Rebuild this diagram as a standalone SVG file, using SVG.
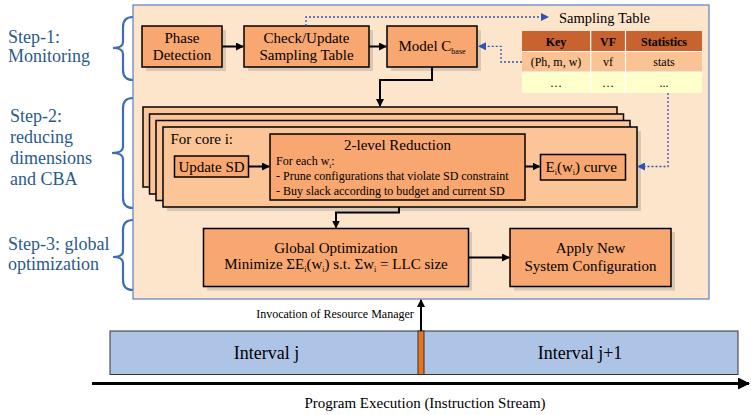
<svg xmlns="http://www.w3.org/2000/svg" width="751" height="415" viewBox="0 0 751 415">
<style>
text{font-family:"Liberation Serif","Times New Roman",serif;fill:#000}
.step{fill:#2A5A8C;font-size:18px}
.brace{fill:none;stroke:#3E6DB5;stroke-width:2.2}
.box{fill:#F8A770;stroke:#000;stroke-width:1.5}
.stk{fill:#FBC597;stroke:#000;stroke-width:1.5}
.sh{fill:#BFB2A4;opacity:0.6}
.c{text-anchor:middle}
.f15{font-size:15px}
.f12{font-size:12px}
.conn{fill:none;stroke:#000;stroke-width:2}
.dash{fill:none;stroke:#2F52B5;stroke-width:1.3;stroke-dasharray:2,2}
</style>
<defs>
<marker id="ah" markerWidth="8" markerHeight="8" refX="7" refY="4" orient="auto" markerUnits="userSpaceOnUse"><path d="M0,0 L8,4 L0,8 Z" fill="#000"/></marker>
<marker id="ahb" markerWidth="8" markerHeight="8" refX="7" refY="4" orient="auto" markerUnits="userSpaceOnUse"><path d="M0,0 L8,4 L0,8 Z" fill="#2F52B5"/></marker>
<marker id="ahl" markerWidth="12" markerHeight="12" refX="11" refY="6" orient="auto" markerUnits="userSpaceOnUse"><path d="M0,0 L12,6 L0,12 Z" fill="#000"/></marker>
</defs>

<g id="labels">
<text class="step" x="8" y="43">Step-1:</text>
<text class="step" x="8" y="62">Monitoring</text>
<text class="step" x="10" y="122">Step-2:</text>
<text class="step" x="10" y="143">reducing</text>
<text class="step" x="10" y="164">dimensions</text>
<text class="step" x="10" y="185">and CBA</text>
<text class="step" x="8" y="250">Step-3: global</text>
<text class="step" x="8" y="270">optimization</text>
<path class="brace" d="M133,17 Q123,17 123,27 L123,42 Q123,48 113,48 Q123,48 123,54 L123,70 Q123,80 133,80"/>
<path class="brace" d="M133,98 Q123,98 123,108 L123,147 Q123,153 112,153 Q123,153 123,159 L123,198 Q123,208 133,208"/>
<path class="brace" d="M133,220 Q123,220 123,230 L123,251 Q123,257 113,257 Q123,257 123,263 L123,280 Q123,290 133,290"/>
</g>

<g id="panel">
<rect x="133" y="5" width="576" height="294" fill="#FDE5CB" stroke="#5B7FC0" stroke-width="1.2"/>
</g>

<g id="phase">
<rect class="sh" x="146" y="30" width="80" height="41"/>
<rect class="box" x="142" y="26" width="80" height="41"/>
<text class="c f15" x="182" y="43">Phase</text>
<text class="c f15" x="182" y="59.5">Detection</text>
</g>

<g id="check">
<rect class="sh" x="248" y="30" width="125" height="41"/>
<rect class="box" x="244" y="26" width="125" height="41"/>
<text class="c f15" x="306.5" y="43">Check/Update</text>
<text class="c f15" x="306.5" y="59.5">Sampling Table</text>
</g>

<g id="model">
<rect class="sh" x="391" y="30" width="90" height="41"/>
<rect class="box" x="387" y="26" width="90" height="41"/>
<text class="c f15" x="432" y="51">Model C<tspan font-size="8" dy="3">base</tspan></text>
</g>

<g id="table">
<text class="f15" x="559" y="23" style="font-size:14.5px">Sampling Table</text>
<rect x="522" y="31" width="180" height="20.5" fill="#C8622E"/>
<rect x="522" y="51.5" width="180" height="20.5" fill="#FAC394"/>
<rect x="522" y="72" width="180" height="21" fill="#FFFFCC"/>
<g stroke="#fff" stroke-width="1.2">
<line x1="522" y1="51.5" x2="702" y2="51.5"/>
<line x1="522" y1="72" x2="702" y2="72"/>
<line x1="590.7" y1="31" x2="590.7" y2="93"/>
<line x1="625.5" y1="31" x2="625.5" y2="93"/>
</g>
<text class="c f12" x="556" y="45.5" font-weight="bold">Key</text>
<text class="c f12" x="608" y="45.5" font-weight="bold">VF</text>
<text class="c f12" x="664" y="45.5" font-weight="bold">Statistics</text>
<text class="c f12" x="556" y="66">(Ph, m, w)</text>
<text class="c f12" x="608" y="66">vf</text>
<text class="c f12" x="664" y="66">stats</text>
<text class="c f12" x="556" y="87">…</text>
<text class="c f12" x="608" y="87">…</text>
<text class="c f12" x="664" y="87">...</text>
</g>

<g id="stack">
<rect class="stk" x="143" y="107" width="474" height="80"/>
<rect class="stk" x="149.5" y="114" width="474" height="80"/>
<rect class="stk" x="156" y="120.5" width="474" height="80"/>
<rect class="sh" x="167" y="131" width="474" height="80"/>
<rect class="stk" x="163" y="127" width="474" height="80"/>
<text class="f15" x="170.5" y="144">For core i:</text>
</g>

<g id="updatesd">
<rect class="box" x="174.5" y="156" width="74" height="21"/>
<text class="c f15" x="211.5" y="171.5">Update SD</text>
</g>

<g id="reduction">
<rect class="box" x="270" y="134" width="255" height="66"/>
<text class="c f15" x="397.5" y="150">2-level Reduction</text>
<text class="f12" x="276" y="165">For each w<tspan font-size="7" dy="3">i</tspan><tspan dy="-3">:</tspan></text>
<text class="f12" x="276" y="180">- Prune configurations that violate SD constraint</text>
<text class="f12" x="276" y="194.5">- Buy slack according to budget and current SD</text>
</g>

<g id="curve">
<rect class="box" x="540.5" y="154.5" width="85" height="25.5"/>
<text class="f15" x="545.5" y="172">E<tspan font-size="8" dy="3">i</tspan><tspan dy="-3">(w</tspan><tspan font-size="8" dy="3">i</tspan><tspan dy="-3">) curve</tspan></text>
</g>

<g id="global">
<rect class="sh" x="207" y="232" width="265" height="58.5"/>
<rect class="box" x="203.5" y="228.5" width="265" height="58"/>
<text class="c f15" x="336" y="252.5">Global Optimization</text>
<text class="c f15" x="336" y="268.5">Minimize ΣE<tspan font-size="8" dy="3">i</tspan><tspan dy="-3">(w</tspan><tspan font-size="8" dy="3">i</tspan><tspan dy="-3">) s.t. Σw</tspan><tspan font-size="8" dy="3">i</tspan><tspan dy="-3"> = LLC size</tspan></text>
</g>

<g id="apply">
<rect class="sh" x="514" y="232" width="161" height="58.5"/>
<rect class="box" x="510" y="228.5" width="161" height="58"/>
<text class="c f15" x="590.5" y="253">Apply New</text>
<text class="c f15" x="590.5" y="270.5">System Configuration</text>
</g>

<g id="timeline">
<rect x="110" y="331" width="628" height="43.5" fill="#ADC4E6" stroke="#333" stroke-width="1"/>
<rect x="418" y="331" width="6" height="43.5" fill="#E8751C" stroke="#333" stroke-width="1"/>
<text class="c" x="266.5" y="359" font-size="18px">Interval j</text>
<text class="c" x="580" y="359" font-size="18px">Interval j+1</text>
<text class="c f12" x="335" y="318">Invocation of Resource Manager</text>
<text class="c f15" x="425" y="408">Program Execution (Instruction Stream)</text>
</g>

<g id="connectors">
<line class="conn" x1="222" y1="46.5" x2="243" y2="46.5" marker-end="url(#ah)"/>
<line class="conn" x1="369" y1="46.5" x2="386" y2="46.5" marker-end="url(#ah)"/>
<polyline class="conn" points="432,67 432,80 380,80 380,106" marker-end="url(#ah)"/>
<line class="conn" x1="248.5" y1="166.5" x2="269" y2="166.5" marker-end="url(#ah)"/>
<line class="conn" x1="525" y1="166.5" x2="539.5" y2="166.5" marker-end="url(#ah)"/>
<polyline class="conn" points="399,207 399,212.5 336,212.5 336,227.5" marker-end="url(#ah)"/>
<line class="conn" x1="468.5" y1="257.5" x2="509" y2="257.5" marker-end="url(#ah)"/>
<line class="conn" x1="421" y1="331" x2="421" y2="300" marker-end="url(#ah)"/>
<line x1="92" y1="383.5" x2="749" y2="383.5" stroke="#000" stroke-width="3" marker-end="url(#ahl)"/>
<polyline class="dash" points="306,26 306,17 548,17" marker-end="url(#ahb)"/>
<polyline class="dash" points="522,62 501,62 501,46.3 479,46.3" marker-end="url(#ahb)"/>
<polyline class="dash" points="668,93 668,166.5 638,166.5" marker-end="url(#ahb)"/>
</g>
</svg>
